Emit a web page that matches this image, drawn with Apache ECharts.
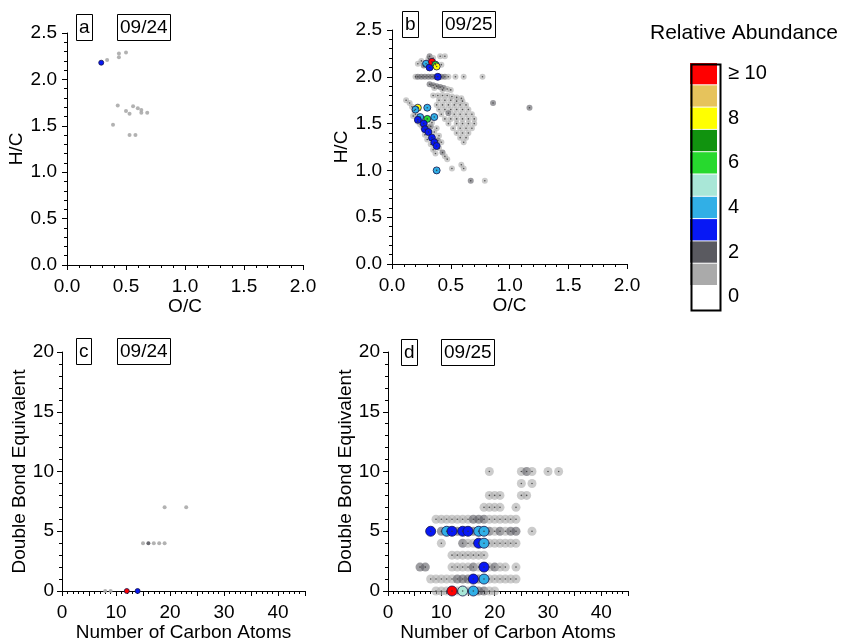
<!DOCTYPE html>
<html>
<head>
<meta charset="utf-8">
<title>Relative Abundance</title>
<script src="https://cdn.jsdelivr.net/npm/echarts@6/dist/echarts.min.js"></script>
<style>
  html, body { margin: 0; padding: 0; background: #fff; }
  #main { width: 844px; height: 640px; }
</style>
</head>
<body>
<div id="main"></div>
<script>
/* data: [x, y, relative abundance] */
// a: O/C vs H/C, 09/24
const vkDay1 = [
  [0.29, 2.18, 3.5], [0.34, 2.21, 1.5], [0.44, 2.24, 1.5], [0.44, 2.28, 1.5], [0.50, 2.29, 1.5],
  [0.43, 1.72, 1.5], [0.50, 1.66, 1.5], [0.53, 1.63, 1.5], [0.56, 1.71, 1.5], [0.60, 1.69, 1.5],
  [0.63, 1.67, 1.5], [0.63, 1.64, 1.5], [0.68, 1.64, 1.5], [0.39, 1.51, 1.5], [0.53, 1.40, 1.5],
  [0.58, 1.40, 1.5]
];
// b: O/C vs H/C, 09/25
const vkDay2 = [
  [0.22, 2.14, 1.5], [0.25, 2.17, 1.5], [0.27, 2.12, 2.5], [0.29, 2.14, 4.5], [0.31, 2.19, 1.5],
  [0.32, 2.22, 2.5], [0.32, 2.10, 3.5], [0.34, 2.16, 11], [0.35, 2.20, 1.5], [0.37, 2.13, 6.5],
  [0.38, 2.11, 8.5], [0.41, 2.22, 1.5], [0.42, 2.13, 1.5], [0.45, 2.22, 1.5],
  [0.20, 2.00, 1.5], [0.22, 2.00, 2.5], [0.25, 2.00, 2.5], [0.28, 2.00, 2.5], [0.31, 2.00, 2.5],
  [0.34, 2.00, 2.5], [0.37, 2.00, 2.5], [0.39, 2.00, 3.5], [0.42, 2.00, 2.5], [0.45, 2.00, 2.5],
  [0.48, 2.00, 1.5], [0.54, 2.00, 1.5], [0.61, 2.00, 1.5], [0.77, 2.00, 1.5],
  [0.32, 1.92, 2.5], [0.35, 1.91, 2.5], [0.38, 1.90, 2.5], [0.41, 1.89, 2.5], [0.44, 1.88, 2.5],
  [0.47, 1.87, 1.5], [0.50, 1.86, 1.5], [0.36, 1.88, 1.5], [0.43, 1.86, 1.5],
  [0.35, 1.80, 1.5], [0.39, 1.80, 1.5], [0.43, 1.80, 1.5], [0.47, 1.80, 1.5], [0.51, 1.79, 1.5],
  [0.55, 1.78, 1.5], [0.59, 1.77, 1.5],
  [0.40, 1.75, 1.5], [0.45, 1.75, 1.5], [0.50, 1.75, 1.5], [0.55, 1.74, 1.5], [0.60, 1.74, 1.5],
  [0.38, 1.70, 1.5], [0.43, 1.70, 1.5], [0.48, 1.70, 1.5], [0.53, 1.70, 1.5], [0.58, 1.70, 1.5], [0.63, 1.70, 1.5],
  [0.40, 1.65, 1.5], [0.45, 1.65, 1.5], [0.50, 1.65, 1.5], [0.55, 1.65, 1.5], [0.60, 1.65, 1.5], [0.65, 1.65, 1.5],
  [0.42, 1.60, 1.5], [0.48, 1.61, 2.5], [0.53, 1.60, 1.5], [0.58, 1.60, 1.5], [0.63, 1.60, 1.5], [0.68, 1.60, 1.5],
  [0.45, 1.55, 1.5], [0.50, 1.55, 1.5], [0.55, 1.55, 1.5], [0.60, 1.55, 1.5], [0.65, 1.55, 1.5], [0.70, 1.55, 1.5],
  [0.48, 1.50, 1.5], [0.55, 1.50, 1.5], [0.60, 1.50, 1.5], [0.65, 1.50, 1.5], [0.70, 1.50, 1.5],
  [0.52, 1.45, 1.5], [0.58, 1.45, 1.5], [0.63, 1.45, 1.5], [0.68, 1.45, 1.5],
  [0.55, 1.40, 1.5], [0.60, 1.40, 1.5], [0.65, 1.40, 1.5], [0.58, 1.35, 1.5], [0.63, 1.35, 1.5], [0.61, 1.30, 1.5],
  [0.12, 1.75, 1.5], [0.15, 1.72, 1.5], [0.17, 1.68, 1.5], [0.19, 1.64, 1.5], [0.18, 1.58, 1.5],
  [0.20, 1.60, 1.5], [0.22, 1.52, 1.5], [0.24, 1.49, 1.5], [0.26, 1.46, 1.5], [0.30, 1.47, 1.5],
  [0.33, 1.47, 2.5], [0.34, 1.51, 1.5], [0.36, 1.41, 1.5], [0.38, 1.45, 1.5], [0.40, 1.37, 1.5],
  [0.39, 1.32, 2.5], [0.42, 1.30, 1.5], [0.40, 1.24, 1.5], [0.43, 1.19, 2.5], [0.45, 1.15, 1.5],
  [0.47, 1.12, 1.5], [0.33, 1.28, 1.5], [0.35, 1.22, 1.5], [0.37, 1.18, 1.5], [0.28, 1.38, 1.5],
  [0.30, 1.33, 1.5],
  [0.22, 1.67, 8.5], [0.20, 1.65, 4.5], [0.30, 1.67, 4.5], [0.24, 1.57, 4.5], [0.22, 1.54, 3.5],
  [0.30, 1.55, 6.5], [0.36, 1.57, 4.5], [0.27, 1.50, 3.5], [0.28, 1.44, 3.5], [0.31, 1.41, 3.5],
  [0.34, 1.35, 3.5], [0.36, 1.30, 3.5], [0.38, 1.26, 3.5],
  [0.38, 1.00, 4.5], [0.51, 1.02, 1.5], [0.59, 1.06, 1.5], [0.61, 1.02, 1.5], [0.67, 0.89, 2.5],
  [0.79, 0.89, 1.5], [0.86, 1.72, 2.5], [1.17, 1.67, 2.5]
];
// c: carbon number vs DBE, 09/24
const dbeDay1 = [
  [8, 0, 1.5], [9, 0, 1.5], [12, 0, 11], [14, 0, 3.5],
  [15, 4, 1.5], [16, 4, 2.5], [17, 4, 1.5], [18, 4, 1.5], [19, 4, 1.5],
  [19, 7, 1.5], [23, 7, 1.5]
];
// d: carbon number vs DBE, 09/25
const dbeDay2 = [
  [19, 10, 1.5], [25, 10, 1.5], [26, 10, 2.5], [27, 10, 1.5], [30, 10, 1.5], [32, 10, 1.5],
  [25, 9, 1.5], [27, 9, 1.5],
  [19, 8, 1.5], [20, 8, 1.5], [21, 8, 1.5], [25, 8, 1.5], [26, 8, 1.5],
  [18, 7, 1.5], [19, 7, 1.5], [20, 7, 1.5], [21, 7, 1.5], [24, 7, 1.5],
  [9, 6, 1.5], [10, 6, 1.5], [11, 6, 1.5], [12, 6, 1.5], [13, 6, 1.5], [14, 6, 1.5], [15, 6, 1.5],
  [16, 6, 2.5], [17, 6, 2.5], [18, 6, 2.5], [19, 6, 1.5], [20, 6, 1.5], [21, 6, 1.5], [22, 6, 1.5],
  [23, 6, 1.5], [24, 6, 1.5],
  [8, 5, 3.5], [10, 5, 2.5], [11, 5, 4.5], [12, 5, 3.5], [13, 5, 2.5], [14, 5, 3.5], [15, 5, 3.5],
  [16, 5, 2.5], [17, 5, 4.5], [18, 5, 4.5], [19, 5, 2.5], [20, 5, 1.5], [21, 5, 2.5], [22, 5, 1.5],
  [23, 5, 2.5], [24, 5, 2.5], [27, 5, 1.5],
  [10, 4, 1.5], [14, 4, 2.5], [15, 4, 1.5], [16, 4, 1.5], [17, 4, 3.5], [18, 4, 4.5], [19, 4, 1.5],
  [20, 4, 1.5], [21, 4, 1.5], [22, 4, 1.5], [23, 4, 1.5], [24, 4, 1.5],
  [12, 3, 1.5], [13, 3, 1.5], [14, 3, 1.5], [15, 3, 1.5], [16, 3, 1.5], [17, 3, 1.5], [18, 3, 1.5],
  [6, 2, 2.5], [7, 2, 2.5], [12, 2, 1.5], [13, 2, 1.5], [14, 2, 1.5], [15, 2, 1.5], [16, 2, 2.5],
  [17, 2, 1.5], [18, 2, 3.5], [19, 2, 1.5], [20, 2, 2.5], [21, 2, 1.5], [22, 2, 1.5], [24, 2, 1.5],
  [8, 1, 1.5], [9, 1, 1.5], [10, 1, 1.5], [11, 1, 1.5], [12, 1, 1.5], [13, 1, 2.5], [14, 1, 2.5],
  [15, 1, 2.5], [16, 1, 3.5], [17, 1, 2.5], [18, 1, 4.5], [19, 1, 1.5], [20, 1, 1.5], [21, 1, 1.5],
  [22, 1, 1.5], [23, 1, 1.5], [24, 1, 1.5],
  [9, 0, 1.5], [10, 0, 1.5], [11, 0, 1.5], [12, 0, 11], [13, 0, 1.5], [14, 0, 5.5], [15, 0, 1.5],
  [16, 0, 4.5], [17, 0, 2.5], [18, 0, 2.5], [19, 0, 1.5], [20, 0, 1.5]
];

/* colour scale */
const pieceLows = [10, 9, 8, 7, 6, 5, 4, 3, 2, 1, 0];
const pieceColors = ['#ff0000', '#e6c35c', '#ffff00', '#11930f', '#27d92e', '#a9e7d7',
                     '#31afe6', '#0718f5', '#5a5a60', '#aaaaaa', '#ffffff'];
const pieceLabels = ['≥ 10', ' ', '8', ' ', '6', ' ', '4', ' ', '2', ' ', '0'];

const panelNames = ['a', 'b', 'c', 'd'];
const panelDates = ['09/24', '09/25', '09/24', '09/25'];

const FONT = 'Liberation Sans, Arial, Helvetica, sans-serif';
const chart = echarts.init(document.getElementById('main'));

const grids = [
  {left: 67, top: 33, width: 236, height: 232, outerBoundsMode: 'none'},
  {left: 392, top: 30, width: 235, height: 234, outerBoundsMode: 'none'},
  {left: 62, top: 352, width: 243, height: 239, outerBoundsMode: 'none'},
  {left: 388, top: 352, width: 240, height: 239, outerBoundsMode: 'none'}
];

const txt = {fontFamily: FONT, fontSize: 19, color: '#000'};

function axis(idx, cfg) {
  return {
    type: 'value',
    gridIndex: idx,
    min: 0,
    max: cfg.max,
    interval: cfg.interval,
    name: cfg.name,
    nameLocation: 'middle',
    nameGap: cfg.nameGap,
    nameTextStyle: txt,
    splitLine: {show: false},
    axisLine: {show: true, onZero: false, lineStyle: {color: '#000', width: 1}},
    axisTick: {show: true, inside: false, length: 5, lineStyle: {color: '#000'}},
    minorTick: {show: true, splitNumber: cfg.minor, length: 3, lineStyle: {color: '#000'}},
    axisLabel: Object.assign({margin: cfg.margin, formatter: cfg.fmt}, txt)
  };
}

const oneDec = v => v.toFixed(1);
const tens = v => (v % 10 === 0 ? String(v) : '');

const xAxes = [
  axis(0, {max: 2, interval: 0.5, minor: 5, name: 'O/C', nameGap: 29, margin: 12, fmt: oneDec}),
  axis(1, {max: 2, interval: 0.5, minor: 5, name: 'O/C', nameGap: 29, margin: 12, fmt: oneDec}),
  axis(2, {max: 45, interval: 5, minor: 5, name: 'Number of Carbon Atoms', nameGap: 29, margin: 12, fmt: tens}),
  axis(3, {max: 45, interval: 5, minor: 5, name: 'Number of Carbon Atoms', nameGap: 29, margin: 12, fmt: tens})
];
const yAxes = [
  axis(0, {max: 2.5, interval: 0.5, minor: 5, name: 'H/C', nameGap: 38, margin: 10, fmt: oneDec}),
  axis(1, {max: 2.5, interval: 0.5, minor: 5, name: 'H/C', nameGap: 40, margin: 10, fmt: oneDec}),
  axis(2, {max: 20, interval: 5, minor: 5, name: 'Double Bond Equivalent', nameGap: 27, margin: 8, fmt: String}),
  axis(3, {max: 20, interval: 5, minor: 5, name: 'Double Bond Equivalent', nameGap: 29, margin: 8, fmt: String})
];

const series = [];
const mapped = [];
function addPanel(idx, data, size, grayOpacity, dots) {
  const base = {type: 'scatter', xAxisIndex: idx, yAxisIndex: idx, symbol: 'circle'};
  mapped.push(series.length);
  series.push(Object.assign({}, base, {
    data: data.filter(p => p[2] < 3), symbolSize: size, itemStyle: {opacity: grayOpacity}, z: 2
  }));
  mapped.push(series.length);
  series.push(Object.assign({}, base, {
    data: data.filter(p => p[2] >= 3), symbolSize: size + 1,
    itemStyle: {opacity: 1, borderColor: '#15154a', borderWidth: 0.8}, z: 3
  }));
  if (dots) {
    series.push(Object.assign({}, base, {
      data: data, symbolSize: 1.6, itemStyle: {color: '#333'}, z: 4, silent: true
    }));
  }
}
addPanel(0, vkDay1, 4, 0.9, false);
addPanel(1, vkDay2, 6, 0.6, true);
addPanel(2, dbeDay1, 4, 0.9, false);
addPanel(3, dbeDay2, 9, 0.6, true);

const pieces = pieceLows.map((lo, i) => (i === 0
  ? {gte: lo, color: pieceColors[i], label: pieceLabels[i]}
  : {gte: lo, lt: lo + 1, color: pieceColors[i], label: pieceLabels[i]}));

// boxed panel letters and dates
const labelBoxes = [
  {x: 76, y: 14}, {x: 117, y: 14},
  {x: 402, y: 11}, {x: 442, y: 11},
  {x: 76, y: 338}, {x: 117, y: 338},
  {x: 401, y: 339}, {x: 441, y: 339}
];
const titles = [{
  text: 'Relative Abundance', left: 650, top: 23, padding: 0,
  textStyle: Object.assign({}, txt, {fontWeight: 'normal', fontSize: 21})
}];
labelBoxes.forEach((b, i) => {
  const p = Math.floor(i / 2);
  titles.push({
    text: i % 2 === 0 ? panelNames[p] : panelDates[p],
    left: b.x, top: b.y,
    padding: [3, 3, 2, 3],
    borderColor: '#000', borderWidth: 1,
    textStyle: Object.assign({}, txt, {fontWeight: 'normal', lineHeight: 22})
  });
});

const option = {
  animation: false,
  backgroundColor: '#fff',
  title: titles,
  grid: grids,
  xAxis: xAxes,
  yAxis: yAxes,
  visualMap: {
    type: 'piecewise',
    dimension: 2,
    seriesIndex: mapped,
    pieces: pieces,
    orient: 'vertical',
    align: 'left',
    left: 690, top: 63,
    padding: 0,
    itemWidth: 27, itemHeight: 21.3, itemGap: 1,
    itemSymbol: 'rect',
    textGap: 11,
    selectedMode: false,
    hoverLink: false,
    textStyle: Object.assign({}, txt, {fontSize: 20})
  },
  graphic: [{
    type: 'rect', left: 689, top: 62, silent: true, z: 100,
    shape: {width: 29, height: 246},
    style: {fill: 'none', stroke: '#000', lineWidth: 2}
  }],
  series: series
};

option && chart.setOption(option);
</script>
</body>
</html>
